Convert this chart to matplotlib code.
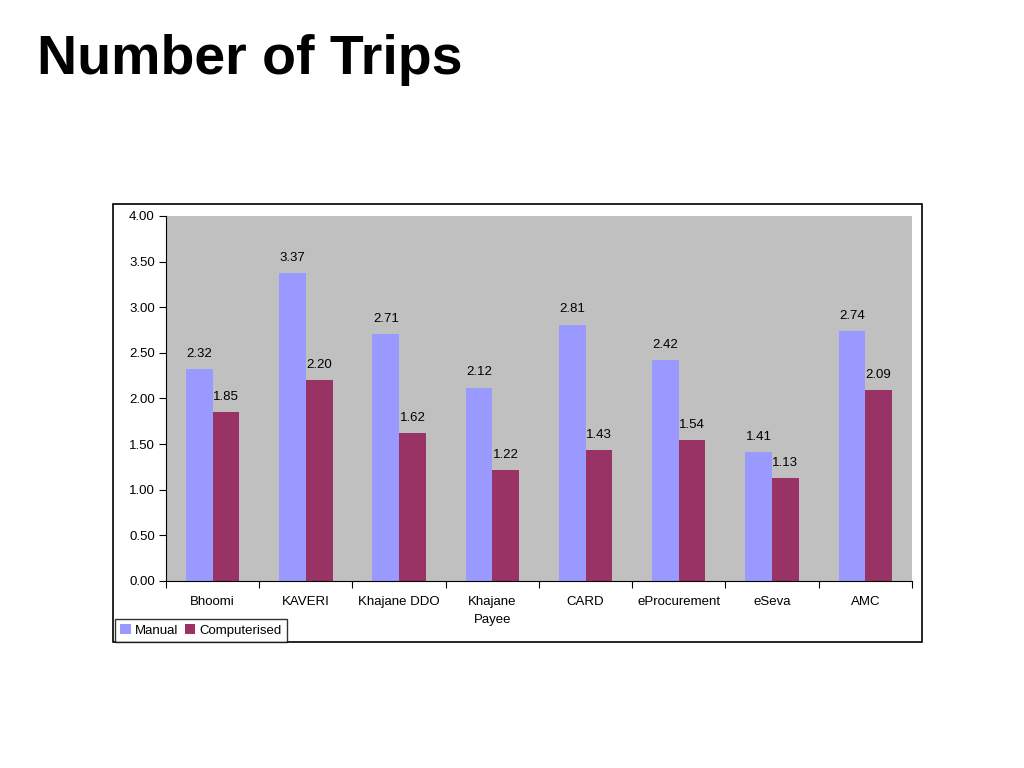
import numpy as np
import matplotlib.pyplot as plt
from matplotlib.patches import Rectangle

plt.rcParams['font.family'] = ['Liberation Sans', 'DejaVu Sans']

categories = ['Bhoomi', 'KAVERI', 'Khajane DDO', 'Khajane\nPayee', 'CARD',
              'eProcurement', 'eSeva', 'AMC']
manual = [2.32, 3.37, 2.71, 2.12, 2.81, 2.42, 1.41, 2.74]
computerised = [1.85, 2.20, 1.62, 1.22, 1.43, 1.54, 1.13, 2.09]
yticks = [0.0, 0.5, 1.0, 1.5, 2.0, 2.5, 3.0, 3.5, 4.0]

fig = plt.figure(figsize=(10.24, 7.68), dpi=100)
fig.patch.set_facecolor('white')

# outer chart frame
fig.patches.append(Rectangle((0.1104, 0.164), 0.790, 0.570, transform=fig.transFigure,
                             fill=False, edgecolor='black', linewidth=1.2))

fig.text(0.036, 0.922, 'Number of Trips', fontsize=40, fontweight='bold', va='center')

ax = fig.add_axes([0.1621, 0.2435, 0.7285, 0.4753])
ax.set_facecolor('#C0C0C0')

x = np.arange(len(categories))
w = 1 / 3.5
b1 = ax.bar(x - w / 2, manual, w, color='#9999FF', label='Manual')
b2 = ax.bar(x + w / 2, computerised, w, color='#993366', label='Computerised')

for bars, vals in ((b1, manual), (b2, computerised)):
    for r, v in zip(bars, vals):
        ax.text(r.get_x() + r.get_width() / 2, v + 0.1, f'{v:.2f}',
                ha='center', va='bottom', fontsize=9.5)

ax.set_xlim(-0.5, len(categories) - 0.5)
ax.set_ylim(0, 4)
ax.set_yticks(yticks)
ax.set_yticklabels([f'{t:.2f}' for t in yticks], fontsize=9.5)
ax.set_xticks(np.arange(-0.5, len(categories), 1))
ax.set_xticklabels([])
ax.set_xticks(x, minor=True)
ax.set_xticklabels(categories, minor=True, fontsize=9.5, va='top', linespacing=1.65)
ax.tick_params(axis='x', which='minor', length=0, pad=11)
ax.tick_params(axis='x', which='major', length=5, direction='out')
ax.tick_params(axis='y', length=5, direction='out', pad=3)

for s in ['top', 'right']:
    ax.spines[s].set_visible(False)
ax.spines['left'].set_color('black')
ax.spines['bottom'].set_color('black')

leg = fig.legend(loc='lower left', bbox_to_anchor=(0.1123, 0.164), ncol=2, fontsize=9.5,
                 frameon=True, fancybox=False, edgecolor='black', handlelength=0.8,
                 handleheight=0.8, handletextpad=0.3, columnspacing=0.5,
                 borderpad=0.4, borderaxespad=0)
leg.get_frame().set_linewidth(1.0)

plt.savefig('out.png', dpi=100)
